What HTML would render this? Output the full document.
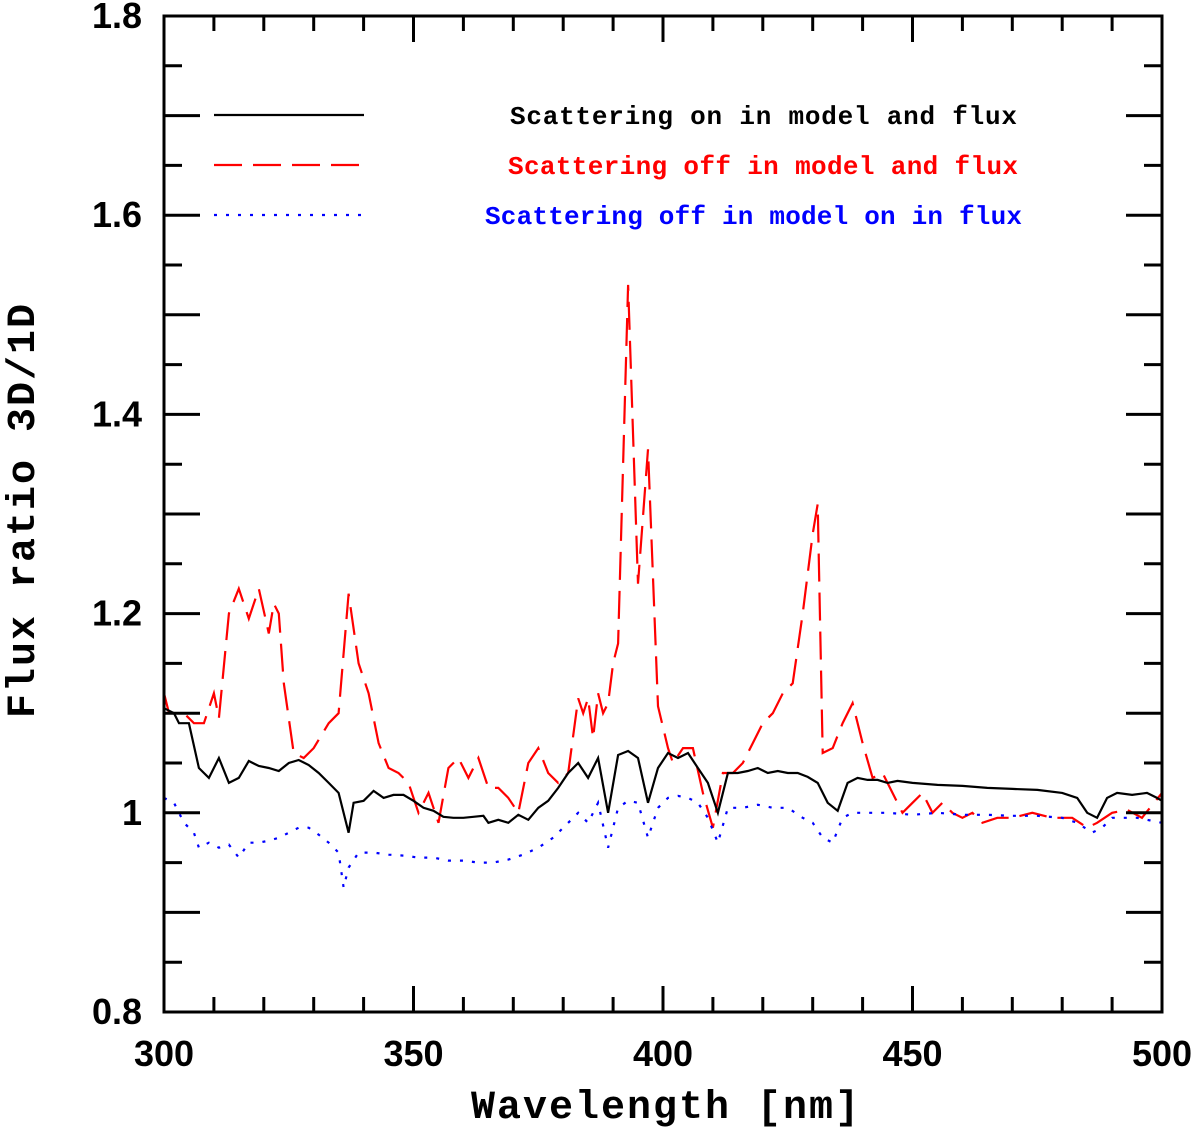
<!DOCTYPE html>
<html><head><meta charset="utf-8"><style>
body{margin:0;background:#fff}
svg{display:block}
</style></head><body>
<svg id="chart" width="1200" height="1129" xmlns="http://www.w3.org/2000/svg">
<rect width="1200" height="1129" fill="#fff"/>
<g id="marks"></g>
<g id="axes"></g>
</svg>
<script>
const xTicks=[300,350,400,450,500];
const yTicks=[0.8,1,1.2,1.4,1.6,1.8];
const yTickLabels=["0.8","1","1.2","1.4","1.6","1.8"];
const blackX=[300,302,303,305,307,309,311,313,315,317,319,321,323,325,327,329,331,333,335,337,338,340,342,344,346,348,350,352,354,356,358,360,362,364,365,367,369,371,373,375,377,379,381,383,385,387,389,391,393,395,397,399,401,403,405,407,409,411,413,415,417,419,421,423,425,427,429,431,433,435,437,439,441,443,445,447,450,455,460,465,470,475,480,483,485,487,489,491,494,497,499,500];
const blackY=[1.105,1.10,1.09,1.09,1.045,1.035,1.055,1.03,1.035,1.052,1.047,1.045,1.042,1.05,1.053,1.048,1.04,1.03,1.02,0.98,1.01,1.012,1.022,1.015,1.018,1.018,1.012,1.005,1.002,0.996,0.995,0.995,0.996,0.997,0.99,0.993,0.99,0.998,0.993,1.005,1.012,1.025,1.04,1.05,1.035,1.055,1.0,1.058,1.062,1.055,1.01,1.045,1.06,1.055,1.06,1.045,1.03,1.0,1.04,1.04,1.042,1.045,1.04,1.042,1.04,1.04,1.036,1.03,1.01,1.002,1.03,1.035,1.033,1.033,1.03,1.032,1.03,1.028,1.027,1.025,1.024,1.023,1.02,1.015,1.0,0.995,1.015,1.02,1.018,1.02,1.015,1.012];
const redX=[300,301,304,306,308,310,311,313,315,317,319,321,322,323,324,326,328,330,333,335,337,339,341,343,345,347,349,351,353,355,357,359,361,363,365,367,369,371,373,375,377,379,381,383,384,385,386,387,388,389,390,391,393,395,397,399,401,402,404,406,408,410,412,414,416,418,420,422,424,426,428,430,431,432,434,436,438,440,442,444,446,448,450,452,454,456,458,460,462,464,467,470,474,478,482,485,487,490,493,496,500];
const redY=[1.12,1.10,1.10,1.09,1.09,1.12,1.095,1.2,1.225,1.195,1.225,1.18,1.21,1.2,1.13,1.06,1.055,1.065,1.09,1.1,1.22,1.15,1.12,1.07,1.045,1.04,1.03,1.0,1.02,0.99,1.045,1.055,1.035,1.055,1.025,1.025,1.015,1.0,1.05,1.065,1.04,1.03,1.04,1.115,1.1,1.115,1.075,1.12,1.1,1.11,1.15,1.17,1.53,1.23,1.365,1.107,1.065,1.05,1.065,1.065,1.02,0.985,1.04,1.04,1.05,1.07,1.09,1.1,1.12,1.13,1.2,1.28,1.31,1.06,1.065,1.09,1.11,1.07,1.035,1.04,1.02,1.0,1.01,1.02,1.0,1.01,1.0,0.995,1.0,0.99,0.995,0.995,1.0,0.995,0.995,0.985,0.99,1.0,1.003,0.995,1.02];
const blueX=[300,302,304,306,307,309,311,313,315,317,319,321,323,325,327,329,331,333,335,336,337,339,342,345,348,351,354,357,360,363,366,369,372,375,378,381,383,385,387,389,391,393,395,397,399,401,403,405,407,409,411,413,416,419,422,425,428,430,432,434,436,438,441,445,450,455,460,465,470,475,480,483,486,488,490,495,500];
const blueY=[1.015,1.01,0.99,0.98,0.965,0.97,0.965,0.968,0.955,0.97,0.97,0.972,0.975,0.98,0.985,0.985,0.978,0.97,0.96,0.925,0.945,0.96,0.96,0.958,0.957,0.955,0.955,0.952,0.952,0.95,0.95,0.953,0.958,0.965,0.975,0.99,1.0,0.99,1.01,0.965,1.005,1.012,1.01,0.975,1.005,1.015,1.017,1.015,1.01,0.995,0.97,1.005,1.005,1.008,1.005,1.005,0.995,0.99,0.975,0.97,0.995,1.0,1.0,1.0,0.998,1.0,0.998,0.998,0.997,0.997,0.995,0.99,0.98,0.985,0.995,0.995,0.99];

const L=164,R=1162,T=16,B=1012;
const sx=v=>L+(v-300)/200*(R-L);
const sy=v=>B-(v-0.8)/1.0*(B-T);
const NS="http://www.w3.org/2000/svg";
function mk(tag,attrs,parent){const e=document.createElementNS(NS,tag);for(const k in attrs)e.setAttribute(k,attrs[k]);parent.appendChild(e);return e;}
const marks=document.getElementById('marks'),axes=document.getElementById('axes');

function series(xs,ys,color,dash,name){
  const d=xs.map((x,i)=>(i?'L':'M')+sx(x).toFixed(1)+' '+sy(ys[i]).toFixed(1)).join(' ');
  const p=mk('path',{d:d,fill:'none',stroke:color,'stroke-width':2.2,'stroke-dasharray':dash},marks);
  
  
}
series(redX,redY,'#f00','28 11','series-scattering-off');
series(blueX,blueY,'#00f','3 9','series-scattering-off-model-on-flux');
series(blackX,blackY,'#000','','series-scattering-on');

const fr=mk('rect',{x:L,y:T,width:R-L,height:B-T,fill:'none',stroke:'#000','stroke-width':3},axes);


for(let v=300;v<=500;v+=10){
  const major=v%50===0, len=major?26:15, x=sx(v);
  mk('line',{x1:x,y1:B,x2:x,y2:B-len,stroke:'#000','stroke-width':3},axes);
  mk('line',{x1:x,y1:T,x2:x,y2:T+len,stroke:'#000','stroke-width':3},axes);
}
xTicks.forEach(v=>{
  const t=mk('text',{x:sx(v),y:1066,'text-anchor':'middle','font-family':'Liberation Sans, sans-serif','font-size':36,'font-weight':'bold'},axes);
  t.textContent=v;
  
  
});
for(let i=0;i<=20;i++){
  const v=0.8+i*0.05, y=sy(v);
  if(i%2===1){ mk('line',{x1:L,y1:y,x2:L+18,y2:y,stroke:'#000','stroke-width':3},axes); mk('line',{x1:R,y1:y,x2:R-18,y2:y,stroke:'#000','stroke-width':3},axes); }
  else { mk('line',{x1:L,y1:y,x2:L+36,y2:y,stroke:'#000','stroke-width':3},axes); mk('line',{x1:R,y1:y,x2:R-36,y2:y,stroke:'#000','stroke-width':3},axes); }
}
yTicks.forEach((v,i)=>{
  const t=mk('text',{x:142,y:sy(v)+12,'text-anchor':'end','font-family':'Liberation Sans, sans-serif','font-size':36,'font-weight':'bold'},axes);
  t.textContent=yTickLabels[i];
  
  
});
const xt=mk('text',{x:666,y:1118,'text-anchor':'middle','font-family':'Liberation Mono, monospace','font-size':40,'font-weight':'bold','letter-spacing':2},axes);
xt.textContent='Wavelength [nm]';


const yt=mk('text',{x:34,y:510,'text-anchor':'middle','font-family':'Liberation Mono, monospace','font-size':40,'font-weight':'bold','letter-spacing':2,transform:'rotate(-90 34 510)'},axes);
yt.textContent='Flux ratio 3D/1D';


const leg=[['Scattering on in model and flux','#000','',115,510,1017],['Scattering off in model and flux','#f00','28 11',165,508,1018],['Scattering off in model on in flux','#00f','3 9',215,485,1022]];
leg.forEach(l=>{
  const ln=mk('line',{x1:214,y1:l[3],x2:364,y2:l[3],stroke:l[1],'stroke-width':2.2,'stroke-dasharray':l[2]},axes);
  
  
  const t=mk('text',{x:l[4],y:l[3]+9,fill:l[1],'font-family':'Liberation Mono, monospace','font-size':26,'font-weight':'bold',textLength:l[5]-l[4],lengthAdjust:'spacing'},axes);
  t.textContent=l[0];
  
  
});
</script>
</body></html>
